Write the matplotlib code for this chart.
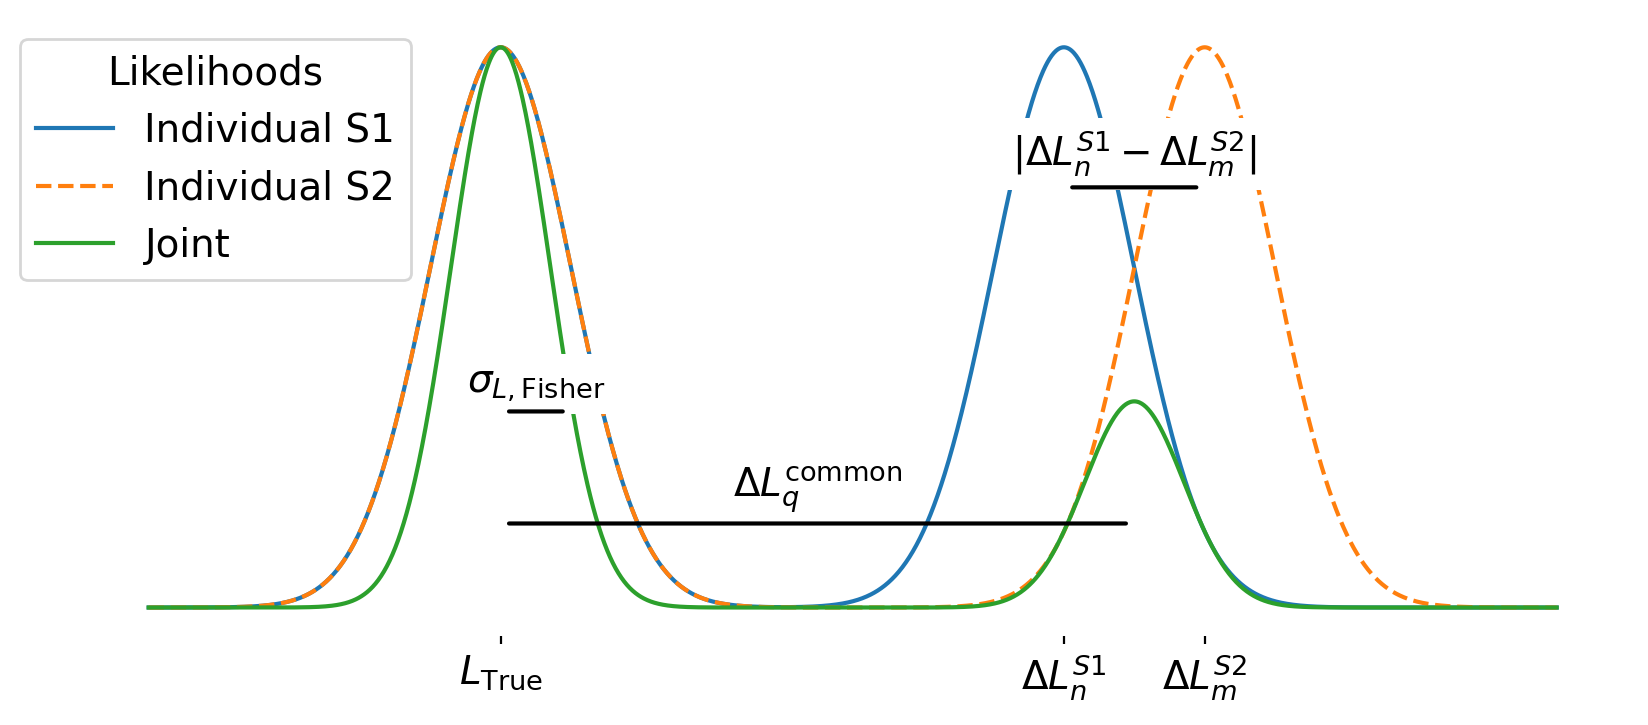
import numpy as np
import matplotlib
matplotlib.use("Agg")
import matplotlib.pyplot as plt

# peak positions / heights / widths
s1_centers = [0.0, 4.0]
s1_heights = [1.0, 1.0]
s1_widths = [0.5, 0.5]

s2_centers = [0.0, 5.0]
s2_heights = [1.0, 1.0]
s2_widths = [0.5, 0.5]

joint_centers = [0.0, 4.5]
joint_heights = [1.0, 0.368]
joint_widths = [0.354, 0.354]

x_range = (-2.5, 7.5)

tick_pos = [0.0, 4.0, 5.0]
tick_labels = [r"$L_{\mathrm{True}}$", r"$\Delta L_n^{S1}$", r"$\Delta L_m^{S2}$"]

# brackets: (start, end, height, label)
brackets = [
    (0.0, 0.5, 0.35, r"$\sigma_{L,\mathrm{Fisher}}$"),
    (0.0, 4.5, 0.15, r"$\Delta L_q^{\mathrm{common}}$"),
    (4.0, 5.0, 0.75, r"$|\Delta L_n^{S1} - \Delta L_m^{S2}|$"),
]


def peaks(x, centers, heights, widths):
    y = np.zeros_like(x)
    for c, h, w in zip(centers, heights, widths):
        y += h * np.exp(-0.5 * ((x - c) / w) ** 2)
    return y


plt.rcParams["font.size"] = 14

fig = plt.figure(figsize=(8.24, 3.625), dpi=200)
ax = fig.add_axes([0.0475, 0.1234, 0.9398, 0.85])

xs = np.linspace(x_range[0], x_range[1], 2000)
ax.plot(xs, peaks(xs, s1_centers, s1_heights, s1_widths), color="C0", lw=1.5, label="Individual S1")
ax.plot(xs, peaks(xs, s2_centers, s2_heights, s2_widths), color="C1", lw=1.5, ls="--", label="Individual S2")
ax.plot(xs, peaks(xs, joint_centers, joint_heights, joint_widths), color="C2", lw=1.5, label="Joint")

for x0, x1, h, lab in brackets:
    ax.annotate(lab, xy=((x0 + x1) / 2, h), xytext=(0, 3), textcoords="offset points",
                ha="center", va="bottom", zorder=4,
                bbox=dict(facecolor="white", edgecolor="none", pad=4))
    ax.annotate("", xy=(x0, h), xytext=(x1, h),
                arrowprops=dict(arrowstyle="-", color="black", lw=1.5, shrinkA=3, shrinkB=3),
                zorder=5)

ax.set_xlim(-3, 8)
ax.set_ylim(-0.05, 1.05)
ax.set_xticks(tick_pos)
ax.set_xticklabels(tick_labels)
ax.set_yticks([])
ax.tick_params(axis="x", length=2.8, width=0.8)
for s in ax.spines.values():
    s.set_visible(False)

ax.legend(title="Likelihoods", loc="upper left", bbox_to_anchor=(20 / 1648, 1 - 39 / 725),
          bbox_transform=fig.transFigure, borderaxespad=0, fontsize=14, title_fontsize=14)

fig.savefig("out.png", dpi=200)
